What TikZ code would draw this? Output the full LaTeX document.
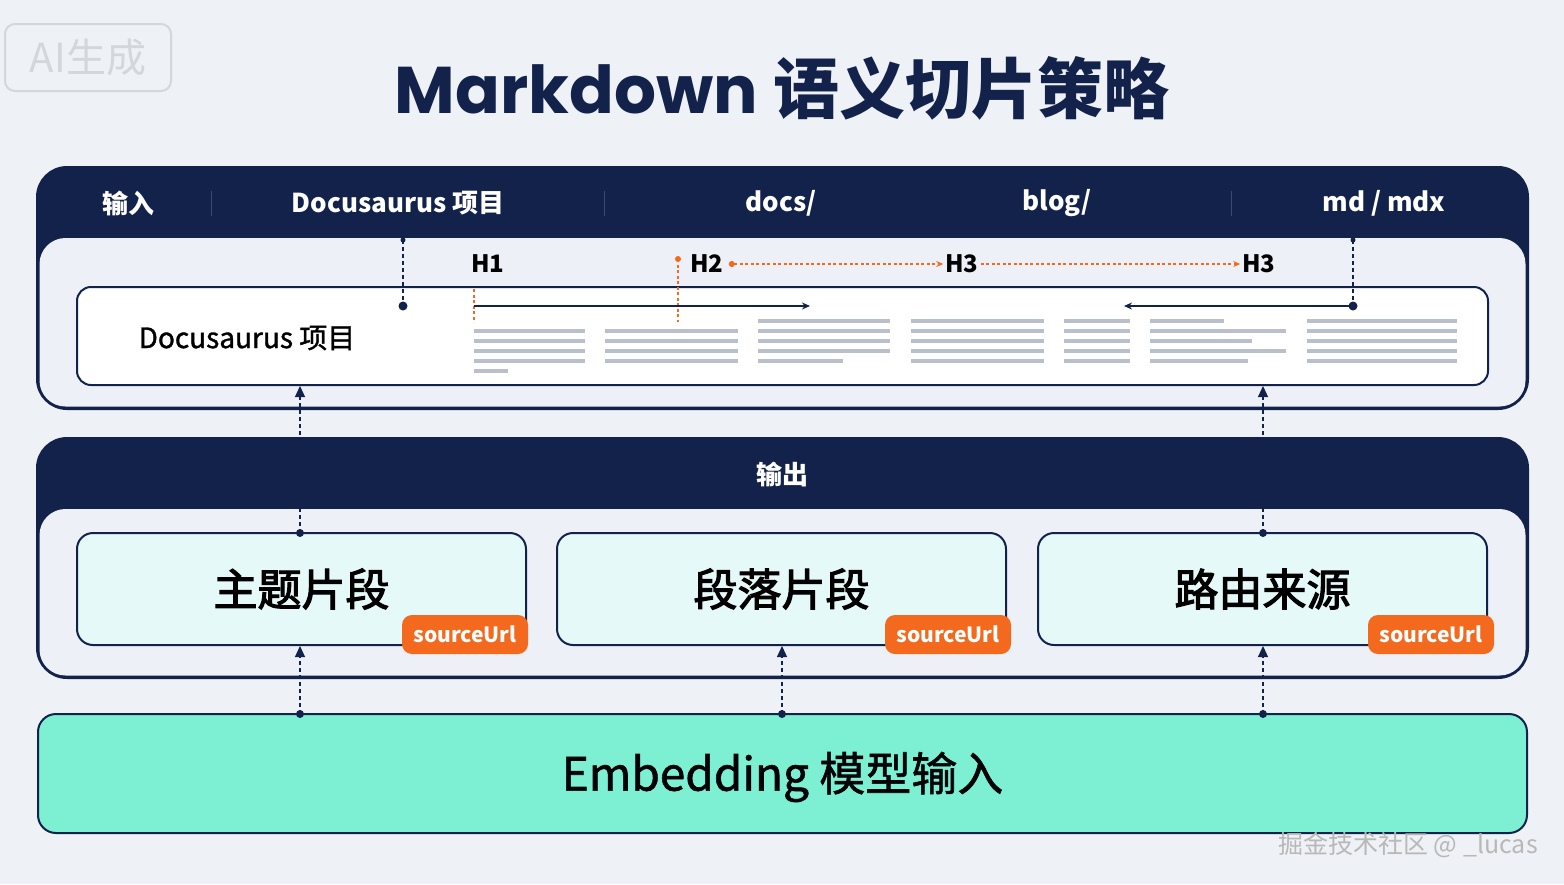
\documentclass[tikz,border=0pt]{standalone}
\usepackage{fontspec}
\setmainfont{Noto Sans CJK SC}
\newfontfamily\pop{Poppins}
\newfontfamily\cjkmed{Noto Sans CJK SC}[FakeBold=2.6]
\newfontfamily\cjkmedl{Noto Sans CJK SC}[FakeBold=1.3]
\usetikzlibrary{arrows.meta}
\definecolor{navy}{HTML}{12224B}
\definecolor{bg}{HTML}{EEF1F5}
\definecolor{panel}{HTML}{EDF1F7}
\definecolor{card}{HTML}{E5FAF8}
\definecolor{mint}{HTML}{7DF0D3}
\definecolor{orng}{HTML}{F36A1E}
\definecolor{txtline}{HTML}{B9BFCB}
\definecolor{sepc}{HTML}{3B4A72}
\definecolor{wm}{HTML}{D3D7DC}
\tikzset{
  panelbox/.style={draw=navy, fill=navy, line width=2pt, rounded corners=30pt, inner sep=0pt},
  whitebox/.style={draw=navy, fill=white, line width=2pt, rounded corners=14pt, inner sep=0pt},
  cardbox/.style={draw=navy, fill=card, line width=2pt, rounded corners=16pt, inner sep=0pt,
     font=\cjkmed\fontsize{44}{48}\selectfont, text=black},
  embbox/.style={draw=navy, fill=mint, line width=2pt, rounded corners=18pt, inner sep=0pt},
  badge/.style={fill=orng, rounded corners=10pt, inner sep=0pt, minimum width=126, minimum height=39,
     text=white, font=\fontsize{21}{24}\selectfont\bfseries},
  hdr/.style={text=white, font=\fontsize{26}{30}\selectfont\bfseries},
  hlabel/.style={text=black, font=\fontsize{24}{28}\selectfont\bfseries, inner sep=2pt},
  sepline/.style={draw=sepc, line width=1pt},
  dline/.style={draw=navy, line width=1.2pt, dash pattern=on 4pt off 3pt},
  oline/.style={draw=orng, line width=1.2pt, dash pattern=on 3pt off 2.5pt},
  tl/.style={draw=txtline, line width=3.6pt},
  dotc/.style={fill=navy, circle, inner sep=0pt, minimum size=8pt},
  odot/.style={fill=orng, circle, inner sep=0pt, minimum size=6pt},
  uparrow/.style={dline, -{Triangle[length=11pt,width=10pt]}},
}
\begin{document}
\begin{tikzpicture}[x=1pt,y=-1pt]
\fill[bg] (0,0) rectangle (1564,884);
\useasboundingbox (0,0) rectangle (1564,884);

% watermark top-left
\node[draw=wm, line width=2pt, rounded corners=10pt, minimum width=166, minimum height=67, inner sep=0pt,
      text=wm, font=\fontsize{40}{44}\selectfont] (ai) at (88,57.5) {AI生成};

% title
\node[text=navy, font=\fontsize{66}{72}\selectfont\bfseries] (title) at (782,88) {{\pop Markdown} 语义切片策略};

% ===== input panel =====
\node[panelbox, minimum width=1489, minimum height=240] (inp) at (782.5,288) {};
\fill[panel, rounded corners=26pt] (39.5,238) rectangle (1525.5,406.5);
\draw[navy, line width=2pt, rounded corners=30pt] (inp.north west) rectangle (inp.south east);

\node[hdr] (hin) at (128,203) {输入};
\node[hdr] (hdoc) at (398,203) {Docusaurus 项目};
\node[hdr] (hdocs) at (781,203) {docs/};
\node[hdr] (hblog) at (1057,203) {blog/};
\node[hdr] (hmd) at (1384,203) {md / mdx};
\draw[sepline] (211,191) -- (211,216);
\draw[sepline] (604,191) -- (604,216);
\draw[sepline] (1231,191) -- (1231,216);

\node[whitebox, minimum width=1411, minimum height=98] (doc) at (782.5,336) {};
\node[text=black, font=\cjkmedl\fontsize{28}{32}\selectfont] (doctxt) at (247,338) {Docusaurus 项目};

% placeholder text lines
\foreach \y in {331,341,351,361} \draw[tl] (474,\y) -- (585,\y);
\draw[tl] (474,371) -- (508,371);
\foreach \y in {331,341,351,361} \draw[tl] (605,\y) -- (738,\y);
\foreach \y in {321,331,341,351} \draw[tl] (758,\y) -- (890,\y);
\draw[tl] (758,361) -- (843,361);
\foreach \y in {321,331,341,351,361} \draw[tl] (911,\y) -- (1044,\y);
\foreach \y in {321,331,341,351,361} \draw[tl] (1064,\y) -- (1130,\y);
\draw[tl] (1150,321) -- (1224,321);
\draw[tl] (1150,331) -- (1286,331);
\draw[tl] (1150,341) -- (1252,341);
\draw[tl] (1150,351) -- (1286,351);
\draw[tl] (1150,361) -- (1248,361);
\foreach \y in {321,331,341,351,361} \draw[tl] (1307,\y) -- (1457,\y);

% heading labels
\node[hlabel] (h1) at (488,264) {H1};
\node[hlabel] (h2) at (707,264) {H2};
\node[hlabel] (h3a) at (962,264) {H3};
\node[hlabel] (h3b) at (1259,264) {H3};

% orange markers
\coordinate (o1t) at (474,289);
\coordinate (o1b) at (474,322);
\draw[oline] (o1t) -- (o1b);
\node[odot] (o2t) at (678,259) {};
\coordinate (o2b) at (678,322);
\draw[oline] (o2t.center) -- (o2b);
\draw[oline, {Circle[length=6pt]}-{Stealth[length=7pt,width=6pt]}] ([xshift=3pt]h2.east) -- (h3a.west);
\draw[oline, -{Stealth[length=7pt,width=6pt]}] (h3a.east) -- (h3b.west);

% navy connectors in input panel
\coordinate (p1t) at (403,240);
\node[dotc, minimum size=9pt] (p1b) at (403,306) {};
\draw[dline] (p1t) -- (p1b.center);
\fill[navy] (p1t) circle (2.5pt);
\coordinate (a1) at (474,306);
\coordinate (a2) at (810,306);
\draw[navy, line width=1.3pt, -{Stealth[length=8pt,width=7pt]}] (a1) -- (a2);
\coordinate (p2t) at (1353,240);
\node[dotc, minimum size=9pt] (p2b) at (1353,306) {};
\draw[dline] (p2t) -- (p2b.center);
\fill[navy] (p2t) circle (2.5pt);
\coordinate (a3) at (1124,306);
\draw[navy, line width=1.3pt, -{Stealth[length=8pt,width=7pt]}] (p2b.center) -- (a3);

% ===== output panel =====
\node[panelbox, minimum width=1489, minimum height=238] (outp) at (782.5,558) {};
\fill[panel, rounded corners=26pt] (39.5,509) rectangle (1525.5,675.5);
\draw[navy, line width=2pt, rounded corners=30pt] (outp.north west) rectangle (outp.south east);
\node[hdr] (hout) at (782,474) {输出};

\node[cardbox, minimum width=449, minimum height=112] (c1) at (301.5,589) {主题片段};
\node[cardbox, minimum width=449, minimum height=112] (c2) at (781.5,589) {段落片段};
\node[cardbox, minimum width=449, minimum height=112] (c3) at (1262.5,589) {路由来源};
\node[badge] (b1) at (465,634.5) {sourceUrl};
\node[badge] (b2) at (948,634.5) {sourceUrl};
\node[badge] (b3) at (1431,634.5) {sourceUrl};

% up arrows from cards to document box
\node[dotc] (u1s) at (300,533) {};
\node[dotc] (u2s) at (1263,533) {};
\draw[uparrow] (u1s.center) -- (doc.south -| u1s);
\draw[uparrow] (u2s.center) -- (doc.south -| u2s);

% ===== embedding =====
\node[embbox, minimum width=1489, minimum height=119] (emb) at (782.5,773.5) {};
\node[font=\cjkmedl\fontsize{46}{50}\selectfont, text=black!90!navy] (embtxt) at (782.5,777) {Embedding 模型输入};
\node[dotc] (e1) at (300,714) {};
\node[dotc] (e2) at (782,714) {};
\node[dotc] (e3) at (1263,714) {};
\draw[uparrow] (e1.center) -- (c1.south -| e1);
\draw[uparrow] (e2.center) -- (c2.south -| e2);
\draw[uparrow] (e3.center) -- (c3.south -| e3);

% watermark bottom-right
\node[text=black!28, font=\fontsize{25}{28}\selectfont] (wm2) at (1408,845) {掘金技术社区 @ \_lucas};
\end{tikzpicture}
\end{document}
